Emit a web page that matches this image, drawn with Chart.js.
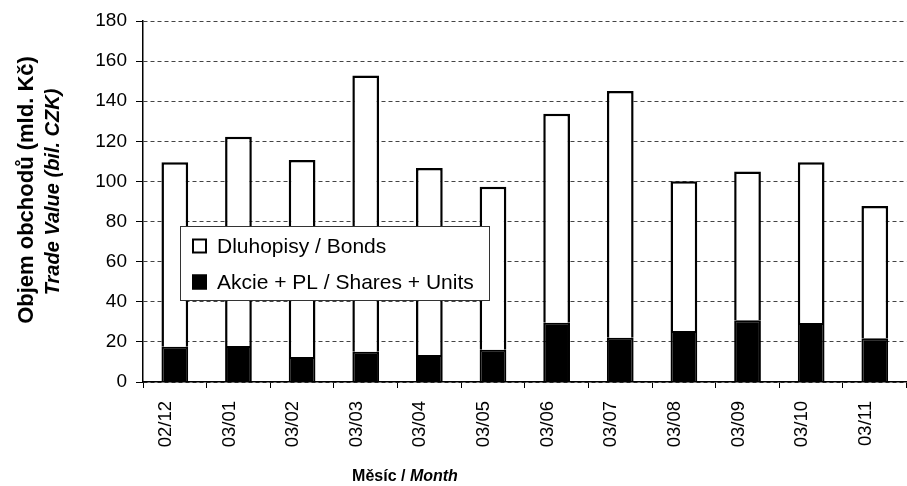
<!DOCTYPE html>
<html>
<head>
<meta charset="utf-8">
<script src="https://cdn.jsdelivr.net/npm/chart.js@4/dist/chart.umd.min.js"></script>
<style>
  html, body { margin: 0; padding: 0; background: #fff; overflow: hidden; }
  #wrap { position: relative; width: 910px; height: 486px; }
</style>
</head>
<body>
<div id="wrap"><canvas id="c"></canvas></div>
<script>
const categories = ['02/12','03/01','03/02','03/03','03/04','03/05','03/06','03/07','03/08','03/09','03/10','03/11'];
const sharesValues = [17.6, 18.0, 12.5, 15.1, 13.5, 16.1, 29.6, 22.1, 25.4, 30.8, 29.4, 21.8];
const bondValues = [92.0, 104.3, 98.2, 137.7, 93.2, 81.3, 104.2, 123.0, 74.7, 74.1, 80.2, 66.0];
const yTicks = [0, 20, 40, 60, 80, 100, 120, 140, 160, 180];
const bondsLabel = 'Dluhopisy / Bonds';
const sharesLabel = 'Akcie + PL / Shares + Units';
const yTitle1 = 'Objem obchodů (mld. Kč)';
const yTitle2 = 'Trade Value (bil. CZK)';
const xTitleA = 'Měsíc / ';
const xTitleB = 'Month';

const FONT = "'Liberation Sans', Arial, sans-serif";

const overlay = {
  id: 'overlay',
  afterDatasetsDraw(chart) {
    const ctx = chart.ctx;
    const ca = chart.chartArea;
    // legend box
    const lx = ca.left + 37, ly = ca.top + 205, lw = 309, lh = 74;
    ctx.save();
    ctx.fillStyle = '#fff';
    ctx.fillRect(lx, ly, lw, lh);
    ctx.strokeStyle = '#333';
    ctx.lineWidth = 1;
    ctx.strokeRect(lx + 0.5, ly + 0.5, lw, lh);
    const items = [
      { ds: chart.data.datasets[1], cy: ly + 20 },
      { ds: chart.data.datasets[0], cy: ly + 56 }
    ];
    ctx.font = '21px ' + FONT;
    ctx.textBaseline = 'middle';
    ctx.textAlign = 'left';
    items.forEach(it => {
      const mx = lx + 12, my = it.cy - 7.5;
      ctx.fillStyle = it.ds.backgroundColor;
      ctx.fillRect(mx, my, 15, 15);
      ctx.strokeStyle = '#000';
      ctx.lineWidth = 2;
      ctx.strokeRect(mx + 1, my + 1, 13, 13);
      ctx.fillStyle = '#000';
      ctx.fillText(it.ds.label, lx + 37, it.cy + 1);
    });
    ctx.restore();
  },
  afterDraw(chart) {
    const ctx = chart.ctx;
    ctx.save();
    ctx.fillStyle = '#000';
    ctx.textBaseline = 'middle';
    ctx.textAlign = 'center';
    // y title
    ctx.save();
    ctx.translate(27, 190);
    ctx.rotate(-Math.PI / 2);
    ctx.font = 'bold 22px ' + FONT;
    ctx.fillText(yTitle1, 0, 0);
    ctx.restore();
    ctx.save();
    ctx.translate(53, 192);
    ctx.rotate(-Math.PI / 2);
    ctx.font = 'italic bold 20px ' + FONT;
    ctx.fillText(yTitle2, 0, 0);
    ctx.restore();
    // x title
    ctx.textAlign = 'left';
    ctx.font = 'bold 16px ' + FONT;
    const wa = ctx.measureText(xTitleA).width;
    ctx.font = 'italic bold 16px ' + FONT;
    const wb = ctx.measureText(xTitleB).width;
    const sx = 405 - (wa + wb) / 2;
    ctx.font = 'bold 16px ' + FONT;
    ctx.fillText(xTitleA, sx, 477);
    ctx.font = 'italic bold 16px ' + FONT;
    ctx.fillText(xTitleB, sx + wa, 477);
    ctx.restore();
  }
};

new Chart(document.getElementById('c'), {
  type: 'bar',
  data: {
    labels: categories,
    datasets: [
      {
        label: sharesLabel,
        data: sharesValues,
        backgroundColor: '#000',
        borderColor: '#000',
        borderWidth: 2,
        borderSkipped: 'start',
        barPercentage: 0.42,
        categoryPercentage: 1.0
      },
      {
        label: bondsLabel,
        data: bondValues,
        backgroundColor: '#fff',
        borderColor: '#000',
        borderWidth: 2.5,
        borderSkipped: 'start',
        barPercentage: 0.42,
        categoryPercentage: 1.0
      }
    ]
  },
  options: {
    responsive: true,
    maintainAspectRatio: false,
    animation: false,
    layout: { padding: { top: 21, left: 0, right: 0, bottom: 0 } },
    plugins: {
      legend: { display: false },
      tooltip: { enabled: false },
      title: { display: false }
    },
    scales: {
      x: {
        stacked: true,
        offset: true,
        afterFit(s) { s.height = 104; },
        grid: {
          display: true,
          offset: true,
          drawOnChartArea: false,
          drawTicks: true,
          tickLength: 6,
          tickColor: '#000',
          color: '#000'
        },
        border: { display: true, color: '#000', width: 1.5 },
        ticks: {
          autoSkip: false,
          minRotation: 90,
          maxRotation: 90,
          padding: 13,
          labelOffset: -9,
          color: '#000',
          font: { family: FONT, size: 18.5 }
        }
      },
      y: {
        stacked: true,
        min: 0,
        max: 180,
        afterFit(s) { s.width = 143; },
        afterBuildTicks(s) { s.ticks = yTicks.map(v => ({ value: v })); },
        grid: {
          color: '#444',
          lineWidth: 1,
          drawTicks: true,
          tickLength: 7,
          tickColor: '#000',
          tickWidth: 1
        },
        border: { display: true, color: '#000', width: 1.5, dash: [4, 3] },
        ticks: {
          padding: 9,
          color: '#000',
          font: { family: FONT, size: 19 }
        }
      }
    }
  },
  plugins: [overlay]
});
</script>
</body>
</html>
